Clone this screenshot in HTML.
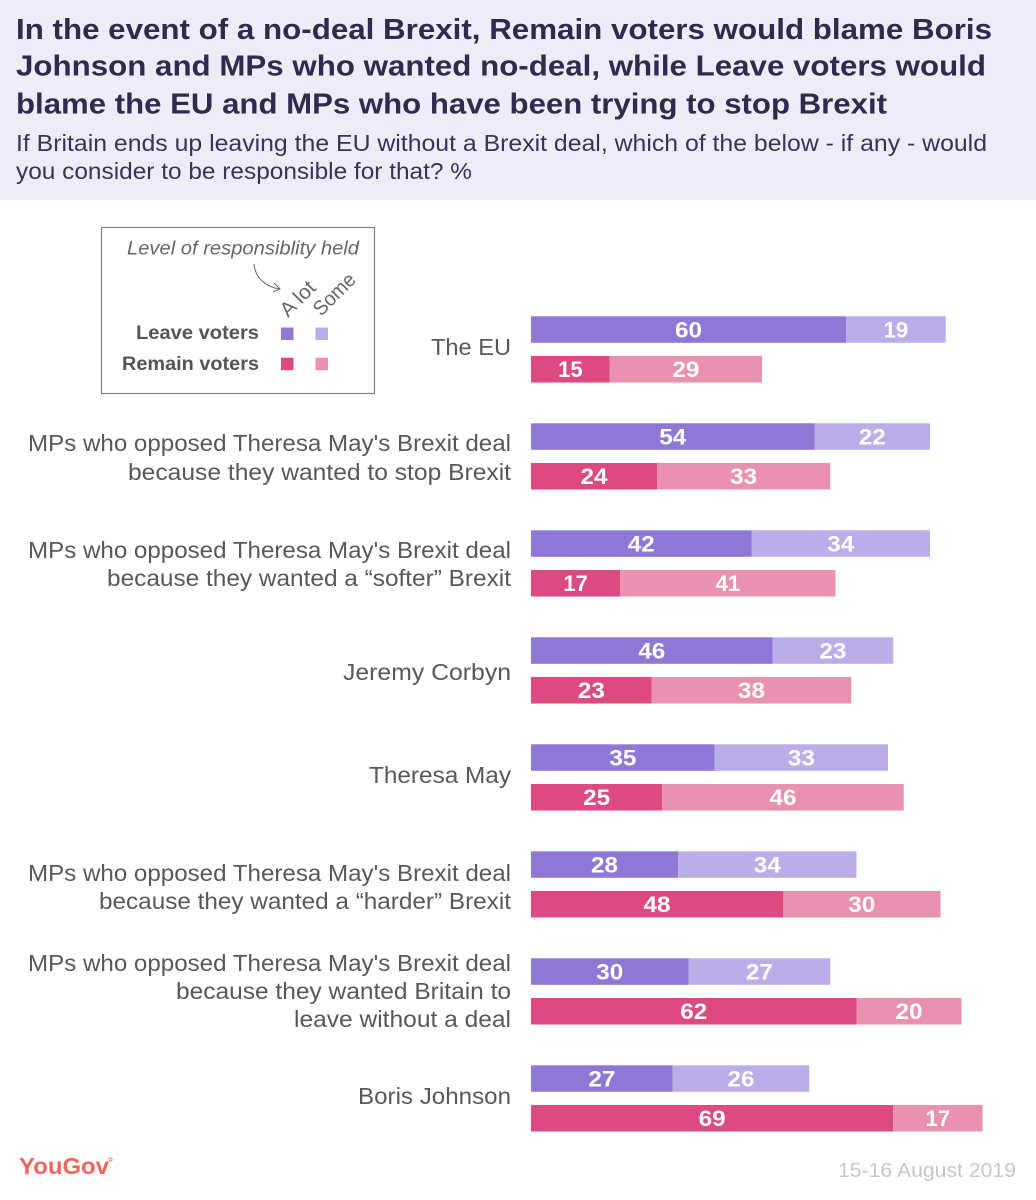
<!DOCTYPE html>
<html lang="en">
<head>
<meta charset="utf-8">
<title>No-deal Brexit responsibility</title>
<style>
html,body{margin:0;padding:0;background:#fff}
svg{display:block}
text{font-family:"Liberation Sans",sans-serif}
.title{font-size:29px;font-weight:700;fill:#2e2a50}
.sub{font-size:23.5px;fill:#38335a}
.cat{font-size:23.5px;fill:#58585a;text-anchor:end}
.val{font-size:22px;font-weight:700;fill:#fff;text-anchor:middle}
.leg{font-size:19.5px;font-weight:700;fill:#555;text-anchor:end}
</style>
</head>
<body>
<svg id="chart" xmlns="http://www.w3.org/2000/svg" width="1036" height="1200" viewBox="0 0 1036 1200">
  <rect x="0" y="0" width="1036" height="1200" fill="#ffffff"/>
  <rect x="0" y="0" width="1036" height="200" fill="#eeecf6"/>
  <g>
    <text class="title" x="16" y="39" textLength="976" lengthAdjust="spacingAndGlyphs">In the event of a no-deal Brexit, Remain voters would blame Boris</text>
    <text class="title" x="16" y="75.5" textLength="970" lengthAdjust="spacingAndGlyphs">Johnson and MPs who wanted no-deal, while Leave voters would</text>
    <text class="title" x="16" y="113.5" textLength="871" lengthAdjust="spacingAndGlyphs">blame the EU and MPs who have been trying to stop Brexit</text>
  </g>
  <g>
    <text class="sub" x="16" y="151" textLength="971" lengthAdjust="spacingAndGlyphs">If Britain ends up leaving the EU without a Brexit deal, which of the below - if any - would</text>
    <text class="sub" x="16" y="179" textLength="456" lengthAdjust="spacingAndGlyphs">you consider to be responsible for that? %</text>
  </g>

  <g>
    <rect x="101.5" y="227.5" width="273" height="166" fill="none" stroke="#808080" stroke-width="1.2"/>
    <text x="127" y="254.5" font-size="19.5" font-style="italic" fill="#666" textLength="232" lengthAdjust="spacingAndGlyphs">Level of responsiblity held</text>
    <path d="M254 264 C255 277 265 287 280 289 M274 283 L280 289 L273 292" fill="none" stroke="#666" stroke-width="1"/>
    <text x="288" y="318" font-size="20.5" fill="#666" transform="rotate(-45 288 318)" textLength="41" lengthAdjust="spacingAndGlyphs">A lot</text>
    <text x="321" y="317" font-size="20.5" fill="#666" transform="rotate(-45 321 317)" textLength="51" lengthAdjust="spacingAndGlyphs">Some</text>
    <text class="leg" x="259" y="339" textLength="123" lengthAdjust="spacingAndGlyphs">Leave voters</text>
    <text class="leg" x="259" y="370" textLength="137" lengthAdjust="spacingAndGlyphs">Remain voters</text>
    <rect x="281" y="327.5" width="12.5" height="12.5" fill="#8f78d5"/>
    <rect x="315.5" y="327.5" width="12.5" height="12.5" fill="#bbade8"/>
    <rect x="281" y="357.7" width="12.5" height="12.5" fill="#dd4a82"/>
    <rect x="315.5" y="357.7" width="12.5" height="12.5" fill="#ea90b1"/>
  </g>

  <g>
    <text class="cat" x="511" y="355" textLength="80" lengthAdjust="spacingAndGlyphs">The EU</text>
    <g>
      <text class="cat" x="511" y="451" textLength="483" lengthAdjust="spacingAndGlyphs">MPs who opposed Theresa May's Brexit deal</text>
      <text class="cat" x="511" y="480" textLength="383" lengthAdjust="spacingAndGlyphs">because they wanted to stop Brexit</text>
    </g>
    <g>
      <text class="cat" x="511" y="558" textLength="483" lengthAdjust="spacingAndGlyphs">MPs who opposed Theresa May's Brexit deal</text>
      <text class="cat" x="511" y="586" textLength="404" lengthAdjust="spacingAndGlyphs">because they wanted a “softer” Brexit</text>
    </g>
    <text class="cat" x="511" y="680" textLength="168" lengthAdjust="spacingAndGlyphs">Jeremy Corbyn</text>
    <text class="cat" x="511" y="783" textLength="142" lengthAdjust="spacingAndGlyphs">Theresa May</text>
    <g>
      <text class="cat" x="511" y="881" textLength="483" lengthAdjust="spacingAndGlyphs">MPs who opposed Theresa May's Brexit deal</text>
      <text class="cat" x="511" y="909" textLength="412" lengthAdjust="spacingAndGlyphs">because they wanted a “harder” Brexit</text>
    </g>
    <g>
      <text class="cat" x="511" y="971" textLength="483" lengthAdjust="spacingAndGlyphs">MPs who opposed Theresa May's Brexit deal</text>
      <text class="cat" x="511" y="999" textLength="335" lengthAdjust="spacingAndGlyphs">because they wanted Britain to</text>
      <text class="cat" x="511" y="1027" textLength="217" lengthAdjust="spacingAndGlyphs">leave without a deal</text>
    </g>
    <text class="cat" x="511" y="1104" textLength="153" lengthAdjust="spacingAndGlyphs">Boris Johnson</text>
  </g>

  <g id="bars"></g>

  <text x="19" y="1174" font-size="23.5" font-weight="700" fill="#f2655c" textLength="90" lengthAdjust="spacingAndGlyphs">YouGov</text>
  <circle cx="110.5" cy="1159.5" r="1.6" fill="none" stroke="#f2655c" stroke-width="0.8"/>
  <text x="838" y="1177" font-size="20" fill="#c6c6c6" textLength="178" lengthAdjust="spacingAndGlyphs">15-16 August 2019</text>
</svg>
<script>
var categories = ["the-eu", "stop-brexit", "softer-brexit", "jeremy-corbyn", "theresa-may", "harder-brexit", "without-a-deal", "boris-johnson"];
var leaveALot = [60, 54, 42, 46, 35, 28, 30, 27];
var leaveSome = [19, 22, 34, 23, 33, 34, 27, 26];
var remainALot = [15, 24, 17, 23, 25, 48, 62, 69];
var remainSome = [29, 33, 41, 38, 46, 30, 20, 17];

var SVG_NS = "http://www.w3.org/2000/svg";
var barsGroup = document.getElementById("bars");
function xScale(v) { return 531 + v * 5.25; }
function rowY(i) { return 316.3 + i * 107; }
var BAR_H = 26.5;
var REMAIN_OFFSET = 39.7;

function valueWidth(value) {
  var digits = String(value).split("");
  var width = 0;
  digits.forEach(function (d) { width += d === "1" ? 11 : 13.5; });
  return width;
}

function drawSegment(name, start, value, y, fill) {
  var rect = document.createElementNS(SVG_NS, "rect");
  rect.setAttribute("x", xScale(start));
  rect.setAttribute("y", y);
  rect.setAttribute("width", xScale(start + value) - xScale(start));
  rect.setAttribute("height", BAR_H);
  rect.setAttribute("fill", fill);
  
  
  barsGroup.appendChild(rect);

  var label = document.createElementNS(SVG_NS, "text");
  label.setAttribute("class", "val");
  label.setAttribute("x", (xScale(start) + xScale(start + value)) / 2);
  label.setAttribute("y", y + 21);
  label.setAttribute("textLength", valueWidth(value));
  label.setAttribute("lengthAdjust", "spacingAndGlyphs");
  label.textContent = value;
  
  
  barsGroup.appendChild(label);
}

categories.forEach(function (cat, i) {
  var top = rowY(i);
  drawSegment("bar-" + cat + "-leave-a-lot", 0, leaveALot[i], top, "#8f78d5");
  drawSegment("bar-" + cat + "-leave-some", leaveALot[i], leaveSome[i], top, "#bbade8");
  drawSegment("bar-" + cat + "-remain-a-lot", 0, remainALot[i], top + REMAIN_OFFSET, "#dd4a82");
  drawSegment("bar-" + cat + "-remain-some", remainALot[i], remainSome[i], top + REMAIN_OFFSET, "#ea90b1");
});
</script>
</body>
</html>
